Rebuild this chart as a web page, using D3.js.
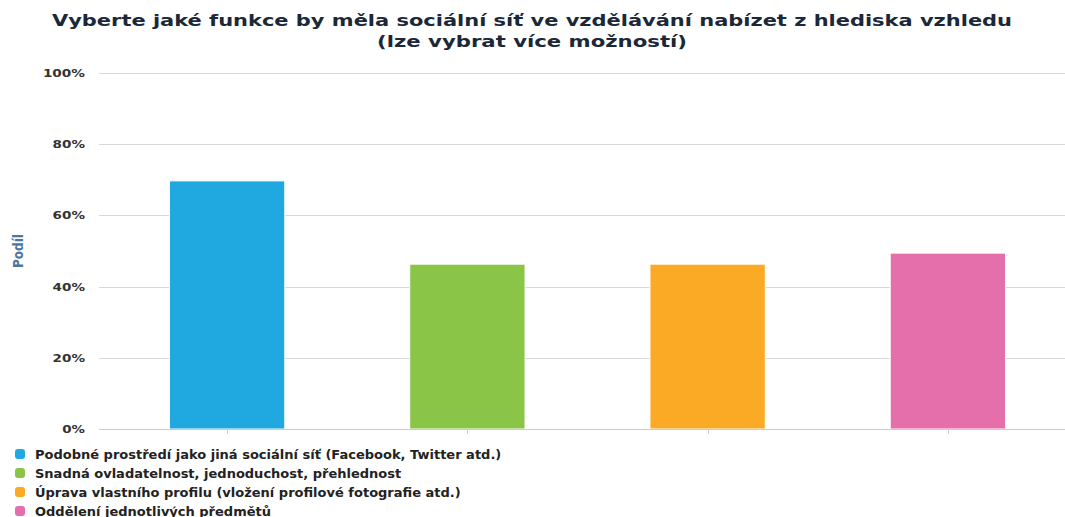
<!DOCTYPE html>
<html><head><meta charset="utf-8">
<script src="https://cdn.jsdelivr.net/npm/d3@7"></script>
<style>body{margin:0;background:#fff}svg{display:block}</style>
</head><body>
<script>
const categories = [
  "Podobné prostředí jako jiná sociální síť (Facebook, Twitter atd.)",
  "Snadná ovladatelnost, jednoduchost, přehlednost",
  "Úprava vlastního profilu (vložení profilové fotografie atd.)",
  "Oddělení jednotlivých předmětů"
];
const values = [69.7, 46.3, 46.3, 49.4];
const colors = ["#20A9E0", "#8AC548", "#FBAA25", "#E56FAA"];
const yTicks = [0, 20, 40, 60, 80, 100];
const titleLines = ["Vyberte jaké funkce by měla sociální síť ve vzdělávání nabízet z hlediska vzhledu", "(lze vybrat více možností)"];
const yAxisTitle = "Podíl";

const W = 1065, H = 517;
const svg = d3.select("body").append("svg").attr("width", W).attr("height", H);
const font = "'DejaVu Sans', Verdana, sans-serif";

const y = d3.scaleLinear().domain([0, 100]).range([429, 73]);
const x = d3.scaleBand().domain(categories).range([107, 1068]).paddingInner(0.52).paddingOuter(0.26);
const gridL = 99, gridR = 1065;

// gridlines
svg.append("g").selectAll("line").data(yTicks.filter(d => d > 0)).join("line")
  .attr("x1", gridL).attr("x2", gridR).attr("y1", d => Math.round(y(d)) + 0.5).attr("y2", d => Math.round(y(d)) + 0.5)
  .attr("stroke", "#d8d8d8").attr("stroke-width", 1);

// y labels
svg.append("g").selectAll("text").data(yTicks).join("text")
  .attr("x", 85).attr("y", d => y(d) + 4).attr("text-anchor", "end")
  .attr("font-family", font).attr("font-weight", "bold").attr("font-size", 11).attr("fill", "#333")
  .attr("textLength", d => (String(d).length) * 9.7 + 13).attr("lengthAdjust", "spacingAndGlyphs")
  .text(d => d + "%");

// y axis title
svg.append("text").attr("transform", "translate(23,251) rotate(-90)").attr("text-anchor", "middle")
  .attr("font-family", "'DejaVu Sans Condensed', 'DejaVu Sans', sans-serif").attr("font-weight", "bold").attr("font-size", 14)
  .attr("textLength", 34).attr("lengthAdjust", "spacingAndGlyphs")
  .attr("fill", "#4d759e").text(yAxisTitle);

// bars
svg.append("g").selectAll("rect").data(values).join("rect")
  .attr("x", (d, i) => x(categories[i]))
  .attr("width", x.bandwidth())
  .attr("y", d => y(d))
  .attr("height", d => y(0) - y(d))
  .attr("fill", (d, i) => colors[i])
  .attr("stroke", "#fff").attr("stroke-width", 1);

// x axis
svg.append("line").attr("x1", gridL).attr("x2", gridR).attr("y1", 429.5).attr("y2", 429.5)
  .attr("stroke", "#c0d0e0").attr("stroke-width", 1);
svg.append("g").selectAll("line").data(categories).join("line")
  .attr("x1", d => Math.round(x(d) + x.bandwidth() / 2) + 0.5).attr("x2", d => Math.round(x(d) + x.bandwidth() / 2) + 0.5)
  .attr("y1", 430).attr("y2", 434).attr("stroke", "#c0d0e0").attr("stroke-width", 1);

// title
const titleW = [960, 310];
titleLines.forEach((t, i) => {
  svg.append("text").attr("x", 532).attr("y", 26 + i * 21).attr("text-anchor", "middle")
    .attr("font-family", font).attr("font-weight", "bold").attr("font-size", 16).attr("fill", "#1b2838")
    .attr("textLength", titleW[i]).attr("lengthAdjust", "spacingAndGlyphs")
    .text(t);
});

// legend
const lg = svg.append("g");
categories.forEach((c, i) => {
  const cy = 454 + i * 19;
  lg.append("rect").attr("x", 15).attr("y", cy - 5).attr("width", 10).attr("height", 10).attr("rx", 3)
    .attr("fill", colors[i]);
  lg.append("text").attr("x", 35).attr("y", cy + 4.5)
    .attr("font-family", font).attr("font-weight", "bold").attr("font-size", 12).attr("fill", "#222")
    .attr("class", "lt").text(c);
});
const first = lg.select(".lt").node().getComputedTextLength();
const fs = 12 * 467 / first;
lg.selectAll(".lt").attr("font-size", fs);
</script>
</body></html>
